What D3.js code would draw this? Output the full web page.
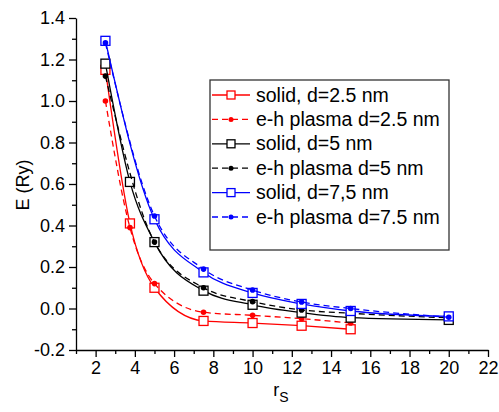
<!DOCTYPE html>
<html>
<head>
    <meta charset="utf-8">
    <title>E vs rs</title>
    <script src="https://cdnjs.cloudflare.com/ajax/libs/d3/7.8.5/d3.min.js"></script>
    <style>
        body { margin: 0; background: white; font-family: Arial, "Liberation Sans", sans-serif; }
        svg { display: block; }
        .axis path, .axis line { stroke: black; stroke-width: 1.3px; }
        .axis text { font-size: 18px; fill: black; font-family: Arial, "Liberation Sans", sans-serif; }
        .legend text { font-size: 19.5px; fill: black; }
    </style>
</head>
<body>
    <svg width="499" height="412"></svg>

    <script>
        // values
        let rsRed = [2.5, 3.75, 5, 7.5, 10, 12.5, 15];
        let solidRed = [1.15, 0.41, 0.10, -0.06, -0.07, -0.083, -0.10];
        let plasmaRed = [1.0, 0.39, 0.12, -0.018, -0.033, -0.049, -0.07];

        let rsBlackSolid = [2.5, 3.75, 5, 7.5, 10, 12.5, 15, 20];
        let solidBlack = [1.18, 0.61, 0.32, 0.086, 0.018, -0.02, -0.044, -0.055];
        let rsBlackPlasma = [2.5, 5, 7.5, 10, 12.5, 15, 20];
        let plasmaBlack = [1.12, 0.32, 0.10, 0.033, -0.007, -0.023, -0.045];

        let rsBlue = [2.5, 5, 7.5, 10, 12.5, 15, 20];
        let solidBlue = [1.29, 0.43, 0.174, 0.075, 0.022, -0.012, -0.038];
        let plasmaBlue = [1.28, 0.446, 0.19, 0.089, 0.031, 0.0, -0.042];

        let xTicks = [2, 4, 6, 8, 10, 12, 14, 16, 18, 20, 22];
        let yTicks = [-0.2, 0.0, 0.2, 0.4, 0.6, 0.8, 1.0, 1.2, 1.4];

        let series = [
            { name: "solid, d=2.5 nm", xs: rsRed, ys: solidRed, color: "#ff0000", dashed: false },
            { name: "e-h plasma d=2.5 nm", xs: rsRed, ys: plasmaRed, color: "#ff0000", dashed: true },
            { name: "solid, d=5 nm", xs: rsBlackSolid, ys: solidBlack, color: "#000000", dashed: false },
            { name: "e-h plasma d=5 nm", xs: rsBlackPlasma, ys: plasmaBlack, color: "#000000", dashed: true },
            { name: "solid, d=7,5 nm", xs: rsBlue, ys: solidBlue, color: "#0000ff", dashed: false },
            { name: "e-h plasma d=7.5 nm", xs: rsBlue, ys: plasmaBlue, color: "#0000ff", dashed: true }
        ];

        let svg = d3.select("svg");
        let x = d3.scaleLinear().domain([1, 22]).range([76, 488]);
        let y = d3.scaleLinear().domain([-0.2, 1.4]).range([350, 18]);

        // minor ticks
        let xMinor = d3.range(1, 22, 2);
        let yMinor = d3.range(-0.1, 1.4, 0.2);

        svg.append("g").attr("class", "axis")
            .attr("transform", "translate(0,350)")
            .call(d3.axisBottom(x).tickValues(xMinor).tickSize(4).tickFormat(""))
            .select(".domain").remove();
        svg.append("g").attr("class", "axis")
            .attr("transform", "translate(76,0)")
            .call(d3.axisLeft(y).tickValues(yMinor).tickSize(4).tickFormat(""))
            .select(".domain").remove();

        svg.append("g").attr("class", "axis")
            .attr("transform", "translate(0,350)")
            .call(d3.axisBottom(x).tickValues(xTicks).tickSize(7).tickSizeOuter(0).tickPadding(4).tickFormat(d => String(d)));
        svg.append("g").attr("class", "axis")
            .attr("transform", "translate(76,0)")
            .call(d3.axisLeft(y).tickValues(yTicks).tickSize(7).tickSizeOuter(0).tickPadding(4)
                .tickFormat(d => (Math.abs(d) < 1e-9 ? 0 : d).toFixed(1)));

        // axis titles
        svg.append("text")
            .attr("transform", "translate(29,185) rotate(-90)")
            .attr("text-anchor", "middle")
            .attr("font-size", "18px")
            .text("E (Ry)");
        let xt = svg.append("text").attr("x", 281).attr("y", 396).attr("text-anchor", "middle").attr("font-size", "18px");
        xt.append("tspan").text("r");
        xt.append("tspan").attr("dy", 6).attr("font-size", "14px").text("S");

        let line = d3.line().x(d => x(d[0])).y(d => y(d[1])).curve(d3.curveMonotoneX);

        series.forEach(s => {
            let pts = s.xs.map((v, i) => [v, s.ys[i]]);
            svg.append("path").datum(pts)
                .attr("d", line)
                .attr("fill", "none")
                .attr("stroke", s.color)
                .attr("stroke-width", 1.3)
                .attr("stroke-dasharray", s.dashed ? "6,4" : null);
            if (s.dashed) {
                svg.selectAll(null).data(pts).enter().append("circle")
                    .attr("cx", d => x(d[0])).attr("cy", d => y(d[1])).attr("r", 2.8)
                    .attr("fill", s.color);
            } else {
                svg.selectAll(null).data(pts).enter().append("rect")
                    .attr("x", d => x(d[0]) - 4.5).attr("y", d => y(d[1]) - 4.5)
                    .attr("width", 9).attr("height", 9)
                    .attr("fill", "white").attr("stroke", s.color).attr("stroke-width", 1.3);
            }
        });

        // legend
        let lg = svg.append("g").attr("class", "legend");
        lg.append("rect").attr("x", 210).attr("y", 80).attr("width", 239).attr("height", 170)
            .attr("fill", "white").attr("stroke", "#333").attr("stroke-width", 1.3);
        series.forEach((s, i) => {
            let cy = 95 + i * 24.4;
            lg.append("line").attr("x1", 212).attr("x2", 250).attr("y1", cy).attr("y2", cy)
                .attr("stroke", s.color).attr("stroke-width", 1.3)
                .attr("stroke-dasharray", s.dashed ? "6,4" : null);
            if (s.dashed) {
                lg.append("circle").attr("cx", 231).attr("cy", cy).attr("r", 2.5).attr("fill", s.color);
            } else {
                lg.append("rect").attr("x", 227).attr("y", cy - 4).attr("width", 8).attr("height", 8)
                    .attr("fill", "white").attr("stroke", s.color).attr("stroke-width", 1.3);
            }
            lg.append("text").attr("x", 256).attr("y", cy + 6.5).text(s.name);
        });
    </script>
</body>
</html>
